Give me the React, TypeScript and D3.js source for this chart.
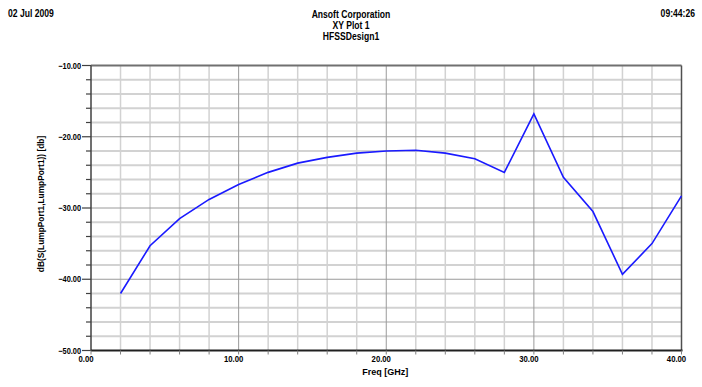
import React, { useEffect, useRef } from "react";
import * as d3 from "d3";

const freqs = [2, 4, 6, 8, 10, 12, 14, 16, 18, 20, 22, 24, 26, 28, 30, 32, 34, 36, 38, 40];
const dbValues = [
  -42.0, -35.3, -31.5, -28.8, -26.7, -25.0, -23.7, -22.9, -22.3, -22.0,
  -21.9, -22.3, -23.1, -25.0, -16.8, -25.7, -30.5, -39.3, -35.0, -28.3,
];
const xTicks = [0, 10, 20, 30, 40];
const yTicks = [-10, -20, -30, -40, -50];
const headerLeft = "02 Jul 2009";
const headerRight = "09:44:26";
const titles = ["Ansoft Corporation", "XY Plot 1", "HFSSDesign1"];

const W = 702;
const H = 387;
const FONT = "'Liberation Sans', Arial, sans-serif";

const App = () => {
  const ref = useRef<SVGSVGElement>(null);

  useEffect(() => {
    const svg = d3.select(ref.current);
    svg.selectAll("*").remove();

    const x = d3.scaleLinear().domain([0, 40]).range([91, 681.5]);
    const y = d3.scaleLinear().domain([-50, -10]).range([350.5, 65.5]);

    svg.append("rect").attr("width", W).attr("height", H).attr("fill", "#fff");

    // narrow bold text: squeeze horizontally to mimic Arial Narrow
    const txt = (
      s: string,
      tx: number,
      ty: number,
      anchor: string,
      size: number,
      sx = 0.86,
      rot = 0
    ) =>
      svg
        .append("g")
        .attr("transform", `translate(${tx},${ty}) rotate(${rot}) scale(${sx},1)`)
        .append("text")
        .attr("text-anchor", anchor)
        .attr("font-family", FONT)
        .attr("font-weight", "bold")
        .attr("font-size", size)
        .attr("fill", "#000")
        .text(s);

    const g = svg.append("g");

    // minor grid
    const minorX = d3.range(2, 40, 2).filter((v) => v % 10 !== 0);
    const minorY = d3.range(-48, -10, 2).filter((v) => v % 10 !== 0);
    g.selectAll(".mgx")
      .data(minorX)
      .enter()
      .append("line")
      .attr("x1", (d) => x(d))
      .attr("x2", (d) => x(d))
      .attr("y1", y(-10))
      .attr("y2", y(-50))
      .attr("stroke", "#d2d2d2")
      .attr("stroke-width", 1.5);
    g.selectAll(".mgy")
      .data(minorY)
      .enter()
      .append("line")
      .attr("x1", x(0))
      .attr("x2", x(40))
      .attr("y1", (d) => y(d))
      .attr("y2", (d) => y(d))
      .attr("stroke", "#d2d2d2")
      .attr("stroke-width", 1.8);

    // major grid
    g.selectAll(".Mgx")
      .data([10, 20, 30])
      .enter()
      .append("line")
      .attr("x1", (d) => x(d))
      .attr("x2", (d) => x(d))
      .attr("y1", y(-10))
      .attr("y2", y(-50))
      .attr("stroke", "#9a9a9a")
      .attr("stroke-width", 1);
    g.selectAll(".Mgy")
      .data([-20, -30, -40])
      .enter()
      .append("line")
      .attr("x1", x(0))
      .attr("x2", x(40))
      .attr("y1", (d) => y(d))
      .attr("y2", (d) => y(d))
      .attr("stroke", "#9a9a9a")
      .attr("stroke-width", 1);

    // frame
    g.append("line").attr("x1", x(0)).attr("x2", x(40)).attr("y1", y(-10)).attr("y2", y(-10))
      .attr("stroke", "#707070").attr("stroke-width", 2);
    g.append("line").attr("x1", x(40)).attr("x2", x(40)).attr("y1", y(-10)).attr("y2", y(-50))
      .attr("stroke", "#505050").attr("stroke-width", 1.5);
    g.append("line").attr("x1", x(0)).attr("x2", x(0)).attr("y1", y(-10)).attr("y2", y(-50))
      .attr("stroke", "#404040").attr("stroke-width", 1.5);
    g.append("line").attr("x1", x(0)).attr("x2", x(40) + 1).attr("y1", y(-50)).attr("y2", y(-50))
      .attr("stroke", "#202020").attr("stroke-width", 2);

    // y ticks
    g.selectAll(".yt")
      .data(d3.range(-50, -9, 2))
      .enter()
      .append("line")
      .attr("x1", (d) => (d % 10 === 0 ? x(0) - 9 : x(0) - 5))
      .attr("x2", x(0))
      .attr("y1", (d) => y(d))
      .attr("y2", (d) => y(d))
      .attr("stroke", "#404040")
      .attr("stroke-width", 1.2);
    // x ticks
    g.selectAll(".xt")
      .data(d3.range(0, 41, 2))
      .enter()
      .append("line")
      .attr("x1", (d) => x(d))
      .attr("x2", (d) => x(d))
      .attr("y1", y(-50))
      .attr("y2", y(-50) + 4)
      .attr("stroke", "#808080")
      .attr("stroke-width", 1);

    // header
    txt(headerLeft, 8, 17, "start", 10);
    txt(headerRight, 695, 17, "end", 10);
    titles.forEach((t, i) => txt(t, 351, 17.5 + i * 11, "middle", 10));

    // tick labels
    yTicks.forEach((d) => txt(d3.format(".2f")(d), 81, y(d) + 3, "end", 8.8, 0.84));
    xTicks.forEach((d) => txt(d3.format(".2f")(d), x(d) - 5, 362, "middle", 8.8, 0.88));

    // axis titles
    txt("Freq [GHz]", x(20) - 1, 375, "middle", 9, 1);
    txt("dB(S(LumpPort1,LumpPort1)) [db]", 44, 204, "middle", 9.5, 0.88, -90);

    // curve
    const line = d3
      .line<number>()
      .x((_, i) => x(freqs[i]))
      .y((d) => y(d));
    g.append("path")
      .datum(dbValues)
      .attr("d", line)
      .attr("fill", "none")
      .attr("stroke", "#1a1aff")
      .attr("stroke-width", 1.6);
  }, []);

  return (
    <svg
      ref={ref}
      width={W}
      height={H}
      style={{ position: "absolute", left: 0, top: 0, display: "block" }}
    />
  );
};

export default App;
